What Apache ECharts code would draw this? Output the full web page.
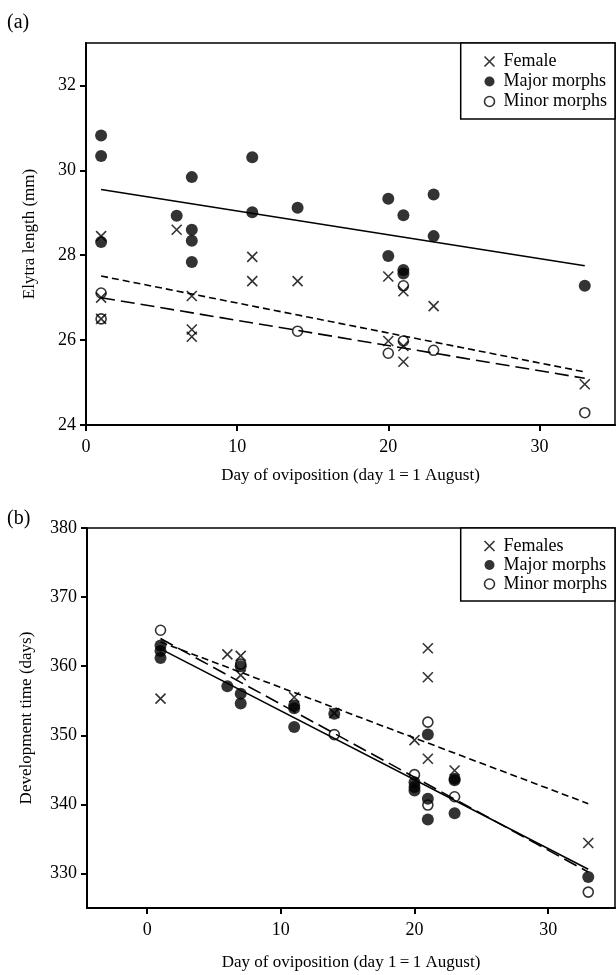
<!DOCTYPE html>
<html>
<head>
    <meta charset='utf-8'>
    <title>Elytra length and development time</title>
    <script src='https://cdn.jsdelivr.net/npm/echarts@6/dist/echarts.min.js'></script>
</head>
<body style='margin:0;background:#fff;'>
    <div id='main' style='width:616px;height:975px;'></div>
    <script type='text/javascript'>
        // (a) Elytra length (mm) against day of oviposition
        var femaleA = [[1,28.45],[1,27.0],[1,26.5],[6,28.6],[7,27.04],[7,26.25],[7,26.08],[11,27.96],[11,27.39],
            [14,27.39],[20,27.5],[20,25.98],[21,27.15],[21,25.86],[21,25.49],[23,26.8],[33,24.96]];
        var majorA = [[1,30.82],[1,30.34],[1,28.31],[6,28.93],[7,29.84],[7,28.6],[7,28.34],[7,27.84],[11,30.31],
            [11,29.01],[14,29.12],[20,29.33],[20,27.98],[21,28.94],[21,27.65],[21,27.57],[23,29.43],[23,28.45],[33,27.28]];
        var minorA = [[1,27.11],[1,26.5],[14,26.21],[20,25.69],[21,27.28],[21,25.98],[23,25.76],[33,24.29]];
        // fitted lines (end points)
        var fitFemaleA = [[1,27.51],[33,25.25]];
        var fitMajorA = [[1,29.55],[33,27.75]];
        var fitMinorA = [[1,27.0],[33,25.1]];

        // (b) Development time (days)
        var femaleB = [[1,355.3],[6,361.7],[7,361.5],[7,358.7],[11,355.5],[14,353.2],[20,349.3],[21,362.6],
            [21,358.4],[21,346.6],[23,344.9],[33,334.4]];
        var majorB = [[1,363.0],[1,362.2],[1,361.2],[6,357.1],[7,360.0],[7,356.0],[7,354.6],[11,354.3],[11,353.9],
            [11,351.2],[14,353.1],[20,343.2],[20,342.5],[20,342.0],[21,350.1],[21,340.8],[21,337.8],[23,343.7],
            [23,343.5],[23,338.7],[33,329.5]];
        var minorB = [[1,365.2],[7,360.3],[14,350.1],[20,344.3],[21,351.9],[21,339.9],[23,341.1],[33,327.3]];
        var fitFemaleB = [[1,363.5],[33,340.1]];
        var fitMajorB = [[1,362.5],[33,330.6]];
        var fitMinorB = [[1,364.0],[33,330.2]];

        // tick labels
        var xTicksA = [0, 10, 20, 30];
        var yTicksA = [24, 26, 28, 30, 32];
        var xTicksB = [0, 10, 20, 30];
        var yTicksB = [330, 340, 350, 360, 370, 380];

        var font = 'Liberation Serif';
        var crossIcon = 'path://M0,0L10,10M0,10L10,0';

        function xAxisOf(idx, min, max, ticks, gap) {
            return {
                type: 'value', gridIndex: idx, min: min, max: max,
                name: 'Day of oviposition (day 1\u2009=\u20091 August)',
                nameLocation: 'middle', nameGap: gap,
                nameTextStyle: { fontFamily: font, fontSize: 17, color: '#000' },
                axisLine: { onZero: false, lineStyle: { color: '#000', width: 2 } },
                axisTick: { show: true, length: 6, customValues: ticks, lineStyle: { color: '#000', width: 2 } },
                axisLabel: { customValues: ticks, margin: 13, fontFamily: font, fontSize: 18, color: '#000' },
                splitLine: { show: false }
            };
        }
        function yAxisOf(idx, min, max, ticks, name, gap) {
            return {
                type: 'value', gridIndex: idx, min: min, max: max,
                name: name, nameLocation: 'middle', nameGap: gap,
                nameTextStyle: { fontFamily: font, fontSize: 17, color: '#000' },
                axisLine: { onZero: false, lineStyle: { color: '#000', width: 2 } },
                axisTick: { show: true, length: 6, customValues: ticks, lineStyle: { color: '#000', width: 2 } },
                axisLabel: { customValues: ticks, margin: 10, fontFamily: font, fontSize: 18, color: '#000' },
                splitLine: { show: false }
            };
        }
        function pts(name, data, idx, kind) {
            var s = { name: name, type: 'scatter', data: data, xAxisIndex: idx, yAxisIndex: idx, silent: true, z: 3 };
            if (kind == 'x') {
                s.symbol = crossIcon; s.symbolSize = 10;
                s.itemStyle = { color: 'transparent', borderColor: '#000', borderWidth: 1.6 };
            } else if (kind == 'fill') {
                s.symbol = 'circle'; s.symbolSize = 12;
                s.itemStyle = { color: '#000' };
            } else {
                s.symbol = 'circle'; s.symbolSize = 10;
                s.itemStyle = { color: 'transparent', borderColor: '#000', borderWidth: 1.6 };
            }
            return s;
        }
        function fit(data, idx, dash) {
            return {
                type: 'line', data: data, xAxisIndex: idx, yAxisIndex: idx, showSymbol: false, silent: true, z: 2,
                lineStyle: { color: '#000', width: 1.6, type: dash }
            };
        }
        function legendOf(idx, top, names, lh) {
            return {
                gridIndex: idx, orient: 'vertical', right: 1, top: top, align: 'left',
                backgroundColor: '#fff', borderColor: '#000', borderWidth: 1.5,
                padding: [9, 8, 8, 23], itemGap: 1, itemWidth: 10, itemHeight: 11,
                textStyle: { fontFamily: font, fontSize: 18, color: '#000', lineHeight: lh, padding: [0, 0, 0, 4] },
                data: [
                    { name: names[0], icon: crossIcon, itemStyle: { color: 'transparent', borderColor: '#000', borderWidth: 1.6 } },
                    { name: names[1], icon: 'circle', itemStyle: { color: '#000' } },
                    { name: names[2], icon: 'circle', itemStyle: { color: '#fff', borderColor: '#000', borderWidth: 1.6 } }
                ]
            };
        }

        var myChart = echarts.init(document.getElementById('main'));
        var option = {
            animation: false,
            backgroundColor: '#fff',
            title: [
                { text: '(a)', left: 2, top: 8, textStyle: { fontFamily: font, fontSize: 20, fontWeight: 'normal', color: '#000' } },
                { text: '(b)', left: 2, top: 504, textStyle: { fontFamily: font, fontSize: 20, fontWeight: 'normal', color: '#000' } }
            ],
            grid: [
                { left: 86, top: 43, right: 1, height: 382, show: true, borderColor: '#000', borderWidth: 1.5 },
                { left: 87, top: 528, right: 1, height: 380, show: true, borderColor: '#000', borderWidth: 1.5 }
            ],
            legend: [
                legendOf(0, 43, ['Female', 'Major morphs', 'Minor morphs'], 19),
                legendOf(1, 528, ['Females', 'Major morphs', 'Minor morphs'], 18)
            ],
            xAxis: [xAxisOf(0, 0, 35, xTicksA, 42), xAxisOf(1, -4.5, 35, xTicksB, 46)],
            yAxis: [
                yAxisOf(0, 24, 33, yTicksA, 'Elytra length (mm)', 48),
                yAxisOf(1, 325, 380, yTicksB, 'Development time (days)', 52)
            ],
            series: [
                fit(fitMajorA, 0, 'solid'),
                fit(fitFemaleA, 0, [7, 4]),
                fit(fitMinorA, 0, [14, 6]),
                pts('Female', femaleA, 0, 'x'),
                pts('Major morphs', majorA, 0, 'fill'),
                pts('Minor morphs', minorA, 0, 'o'),
                fit(fitMajorB, 1, 'solid'),
                fit(fitFemaleB, 1, [7, 4]),
                fit(fitMinorB, 1, [14, 6]),
                pts('Females', femaleB, 1, 'x'),
                pts('Major morphs', majorB, 1, 'fill'),
                pts('Minor morphs', minorB, 1, 'o')
            ]
        };
        myChart.setOption(option);
    </script>
</body>
</html>
